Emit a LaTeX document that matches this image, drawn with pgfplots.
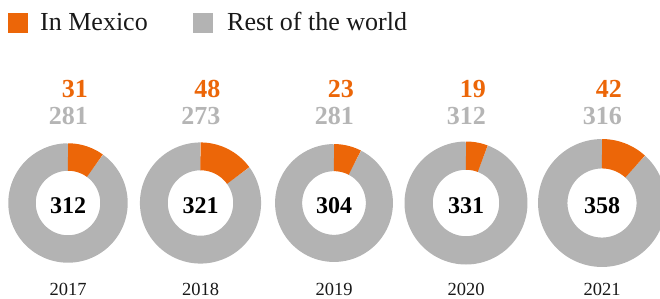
\documentclass[border=0pt]{standalone}
\usepackage{pgfplots}
\usepackage{pgfplotstable}
\usepackage{fontspec}
\setmainfont{Liberation Serif}
\pgfplotsset{compat=1.18}
\definecolor{mex}{HTML}{EC6608}
\definecolor{rest}{HTML}{B3B3B3}
\definecolor{restlab}{HTML}{B5B5B5}
\tikzset{
  mexlab/.style={font=\fontsize{26bp}{28bp}\selectfont\bfseries, text=mex, anchor=base east, inner sep=0pt},
  restlab/.style={font=\fontsize{26bp}{28bp}\selectfont\bfseries, text=restlab, anchor=base east, inner sep=0pt},
  totlab/.style={font=\fontsize{24bp}{26bp}\selectfont\bfseries, text=black, anchor=base, inner sep=0pt},
  yearlab/.style={font=\fontsize{18.5bp}{20bp}\selectfont, text=black!90, anchor=base, inner sep=0pt},
  leglab/.style={font=\fontsize{26bp}{28bp}\selectfont, text=black!90, anchor=base west, inner sep=0pt},
}

\pgfplotstableread{
year cx mex rest total
2017 68 31 281 312
2018 200.5 48 273 321
2019 334 23 281 304
2020 466 19 312 331
2021 602 42 316 358
}\donuts

\begin{document}
\begin{tikzpicture}
\begin{axis}[
  scale only axis, width=660bp, height=298bp,
  xmin=0, xmax=660, ymin=0, ymax=298, y dir=reverse,
  hide axis, clip=true,
]
% legend
\addplot[only marks, mark=square*, mark size=9.5bp, color=mex] coordinates {(17.5,22.5)};
\addplot[only marks, mark=square*, mark size=9.5bp, color=rest] coordinates {(203,22.5)};
\node[leglab] at (axis cs:40,31) {In Mexico};
\node[leglab] at (axis cs:227,31) {Rest of the world};

\pgfplotsinvokeforeach{0,...,4}{
  \pgfplotstablegetelem{#1}{cx}\of\donuts \let\cx\pgfplotsretval
  \pgfplotstablegetelem{#1}{mex}\of\donuts \let\mexv\pgfplotsretval
  \pgfplotstablegetelem{#1}{rest}\of\donuts \let\restv\pgfplotsretval
  \pgfplotstablegetelem{#1}{total}\of\donuts \let\totv\pgfplotsretval
  \pgfplotstablegetelem{#1}{year}\of\donuts \let\yr\pgfplotsretval
  \pgfmathsetmacro\ro{3.38*sqrt(\totv)}
  \pgfmathsetmacro\ri{0.54*\ro}
  \pgfmathsetmacro\rmid{(\ro+\ri)/2}
  \pgfmathsetmacro\lw{\ro-\ri}
  \pgfmathsetmacro\ang{\mexv/\totv*360}
  \pgfmathsetmacro\lx{\cx+20}
  \edef\doplots{%
    \noexpand\addplot[draw=rest, line width=\lw bp, domain=\ang:360, samples=150] ({\cx+\rmid*sin(x)},{203-\rmid*cos(x)});
    \noexpand\addplot[draw=mex, line width=\lw bp, domain=0:\ang, samples=40] ({\cx+\rmid*sin(x)},{203-\rmid*cos(x)});
    \noexpand\node[mexlab] at (axis cs:\lx,97) {\mexv};
    \noexpand\node[restlab] at (axis cs:\lx,124) {\restv};
    \noexpand\node[totlab] at (axis cs:\cx,213) {\totv};
    \noexpand\node[yearlab] at (axis cs:\cx,295.5) {\yr};
  }\doplots
}
\end{axis}
\pgfresetboundingbox
\path (current axis.south west) rectangle (current axis.north east);
\end{tikzpicture}
\end{document}
